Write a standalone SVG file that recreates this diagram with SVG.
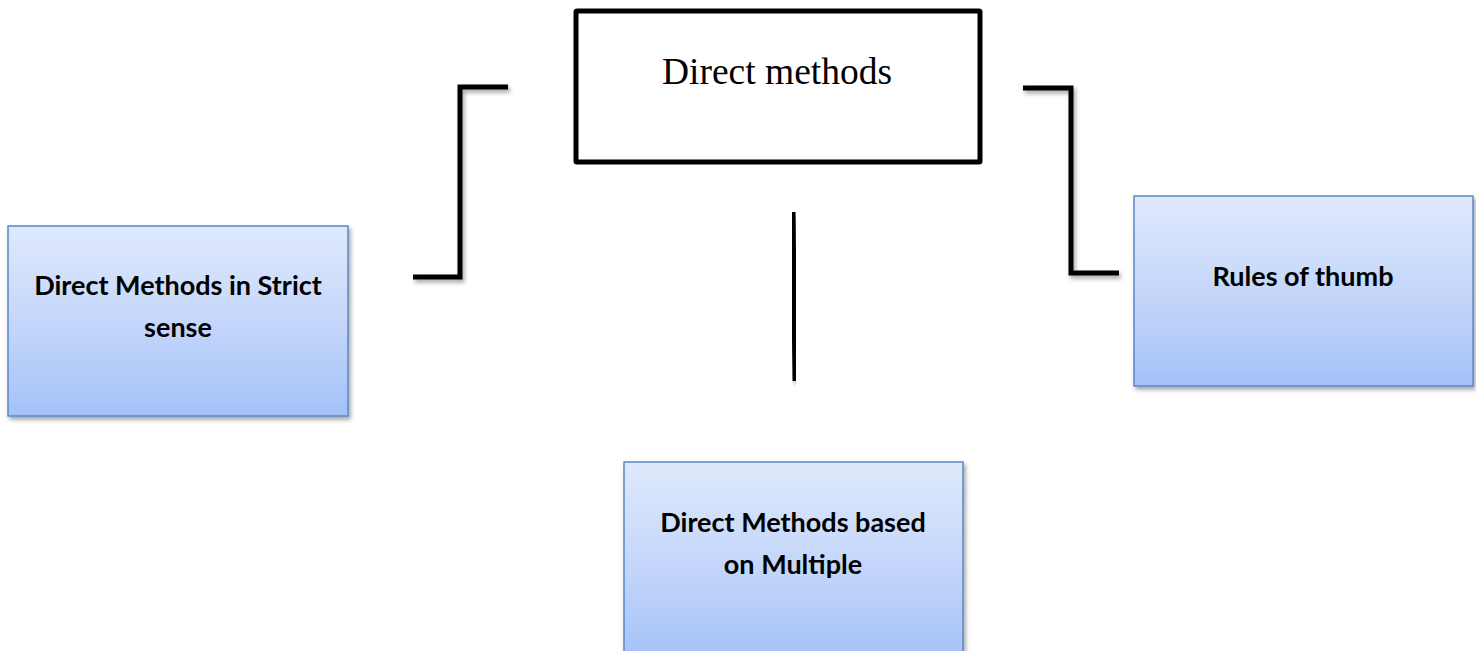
<svg xmlns="http://www.w3.org/2000/svg" width="1476" height="651" viewBox="0 0 1476 651">
<defs>
<linearGradient id="g" x1="0" y1="0" x2="0" y2="1">
<stop offset="0" stop-color="#dfe9fc"/>
<stop offset="0.55" stop-color="#c2d5fa"/>
<stop offset="1" stop-color="#a3c1f9"/>
</linearGradient>
<filter id="sh" x="-10%" y="-10%" width="120%" height="120%">
<feDropShadow dx="2" dy="3" stdDeviation="2" flood-color="#000" flood-opacity="0.35"/>
</filter>
</defs>
<style>
.blue{fill:url(#g);stroke:#5a88c6;stroke-width:1.5;filter:url(#sh)}
.lbl{font-family:Lato,"Open Sans",sans-serif;font-weight:700;font-size:27px;fill:#000;text-anchor:middle}
.con{fill:none;stroke:#000;stroke-width:5;filter:url(#sh)}
</style>
<rect width="1476" height="651" fill="#fff"/>
<g id="connectors">
<polyline class="con" points="508,87 460,87 460,277 413,277"/>
<polyline class="con" points="1023,88 1071,88 1071,273 1119,273"/>
<line class="con" x1="793" y1="212" x2="795" y2="381"/>
</g>
<g id="top">
<rect x="576" y="11" width="404" height="151" fill="#fff" stroke="#000" stroke-width="5" rx="1"/>
<text x="777" y="84" font-family="Liberation Serif,serif" font-size="37.5" text-anchor="middle">Direct methods</text>
</g>
<g id="strict">
<rect class="blue" x="8" y="226" width="340" height="190"/>
<text class="lbl" x="178" y="295">Direct Methods in Strict</text>
<text class="lbl" x="178" y="337">sense</text>
</g>
<g id="thumb">
<rect class="blue" x="1134" y="196" width="339" height="190"/>
<text class="lbl" x="1303" y="286">Rules of thumb</text>
</g>
<g id="multiple">
<rect class="blue" x="624" y="462" width="339" height="200"/>
<text class="lbl" x="793" y="532">Direct Methods based</text>
<text class="lbl" x="793" y="574">on Multiple</text>
</g>
</svg>
